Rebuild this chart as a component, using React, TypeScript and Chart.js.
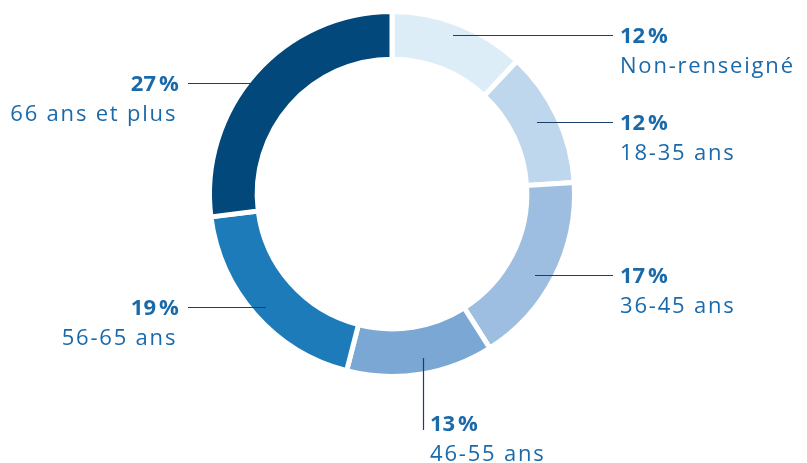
import React, { useEffect, useRef } from "react";
import { Chart, registerables } from "chart.js";

Chart.register(...registerables);

const categories = ["Non-renseigné", "18-35 ans", "36-45 ans", "46-55 ans", "56-65 ans", "66 ans et plus"];
const values = [12, 12, 17, 13, 19, 27];
const valueLabels = ["12\u202F%", "12\u202F%", "17\u202F%", "13\u202F%", "19\u202F%", "27\u202F%"];
const colors = ["#ddedf8", "#bed7ed", "#9dbee0", "#7aa7d3", "#1c7bb8", "#02487a"];

// label placement (layout only)
const labelLayout = [
  { kind: "h", y: 35, x1: 453, x2: 613, tx: 620, align: "left" },
  { kind: "h", y: 122, x1: 537, x2: 613, tx: 620, align: "left" },
  { kind: "h", y: 275, x1: 535, x2: 613, tx: 620, align: "left" },
  { kind: "v", x: 423, y1: 358, y2: 430, tx: 430, ty: 431, align: "left" },
  { kind: "h", y: 307, x1: 188, x2: 266, tx: 179, align: "right" },
  { kind: "h", y: 83, x1: 188, x2: 266, tx: 179, align: "right" },
];

const FONT = '"Open Sans", sans-serif';
const TEXT_COLOR = "#1a6aab";
const LINE_COLOR = "#1b3f66";
const SPACING = 1.8;

const labelPlugin = {
  id: "leaderLabels",
  afterDraw(chart: any) {
    const ctx = chart.ctx as CanvasRenderingContext2D;
    ctx.save();
    labelLayout.forEach((l: any, i: number) => {
      ctx.strokeStyle = LINE_COLOR;
      ctx.lineWidth = 1.2;
      ctx.beginPath();
      let baseline: number;
      if (l.kind === "h") {
        ctx.moveTo(l.x1, l.y + 0.5);
        ctx.lineTo(l.x2, l.y + 0.5);
        baseline = l.y + 8;
      } else {
        ctx.moveTo(l.x + 0.5, l.y1);
        ctx.lineTo(l.x + 0.5, l.y2);
        baseline = l.ty;
      }
      ctx.stroke();
      ctx.fillStyle = TEXT_COLOR;
      ctx.textAlign = l.align;
      ctx.textBaseline = "alphabetic";
      (ctx as any).letterSpacing = "0.3px";
      ctx.font = `700 22px ${FONT}`;
      const extraB = l.align === "right" ? -0.3 : 0;
      ctx.fillText(valueLabels[i], l.tx + extraB, baseline);
      (ctx as any).letterSpacing = `${SPACING}px`;
      ctx.font = `400 22px ${FONT}`;
      const extra = l.align === "right" ? -SPACING : 0;
      ctx.fillText(categories[i], l.tx + extra, baseline + 30);
    });
    ctx.restore();
  },
};

export default function App() {
  const ref = useRef<HTMLCanvasElement | null>(null);
  useEffect(() => {
    document.body.style.margin = "0";
    const chart = new Chart(ref.current as HTMLCanvasElement, {
      type: "doughnut",
      data: {
        labels: categories,
        datasets: [
          {
            data: values,
            backgroundColor: colors,
            borderColor: "#ffffff",
            borderWidth: 5,
            hoverOffset: 0,
          },
        ],
      },
      options: {
        responsive: false,
        animation: false,
        radius: 182.5,
        cutout: 141.5,
        layout: { padding: { left: 0, right: 23, top: 0, bottom: 75 } },
        plugins: { legend: { display: false }, tooltip: { enabled: false } },
      },
      plugins: [labelPlugin],
    } as any);
    return () => chart.destroy();
  }, []);
  return (
    <div style={{ width: 807, height: 463 }}>
      <canvas ref={ref} width={807} height={463} />
    </div>
  );
}
